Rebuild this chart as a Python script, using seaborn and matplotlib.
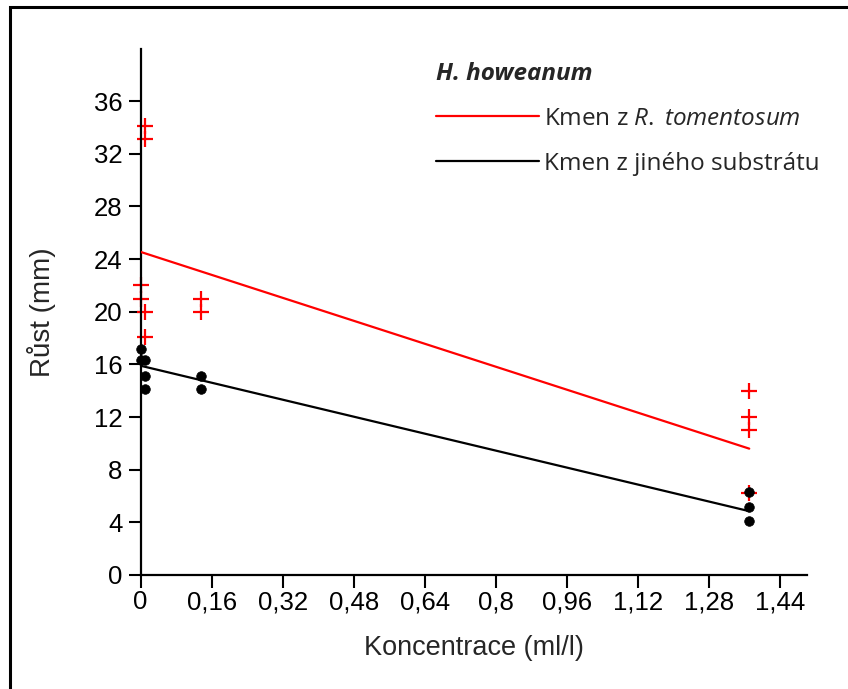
import matplotlib
matplotlib.use("Agg")
import matplotlib.pyplot as plt
from matplotlib.patches import Rectangle
from matplotlib.font_manager import FontProperties
import seaborn as sns

# Growth of H. howeanum strains vs. concentration
conc_red = [0, 0, 0.01, 0.01, 0.01, 0.01, 0.137, 0.137, 1.37, 1.37, 1.37, 1.37]
growth_red = [22.0, 21.0, 34.1, 33.1, 20.0, 18.1, 21.0, 20.0, 14.0, 12.0, 11.0, 6.2]

conc_black = [0, 0, 0.01, 0.01, 0.01, 0.137, 0.137, 1.37, 1.37, 1.37]
growth_black = [17.2, 16.3, 16.3, 15.1, 14.1, 15.1, 14.1, 6.3, 5.2, 4.1]

# Linear trend lines (start and end of the fitted range)
trend_conc = [0, 1.37]
trend_red = [24.55, 9.6]
trend_black = [15.9, 4.85]

x_ticks = [0, 0.16, 0.32, 0.48, 0.64, 0.8, 0.96, 1.12, 1.28, 1.44]
x_tick_labels = ["0", "0,16", "0,32", "0,48", "0,64", "0,8", "0,96", "1,12", "1,28", "1,44"]
y_ticks = [0, 4, 8, 12, 16, 20, 24, 28, 32, 36]
y_tick_labels = [str(v) for v in y_ticks]

label_red = r"Kmen z $\mathit{R.\;tomentosum}$"
label_black = "Kmen z jiného substrátu"

sns.set_style("ticks")
plt.rcParams["font.family"] = ["Liberation Sans", "DejaVu Sans"]
plt.rcParams["mathtext.fontset"] = "custom"
plt.rcParams["mathtext.rm"] = "Open Sans"
plt.rcParams["mathtext.it"] = "Open Sans:italic"

W, H = 848, 689
fig = plt.figure(figsize=(W / 100, H / 100), dpi=100)
ax = fig.add_axes([140.5 / W, 1 - 575 / H, 666.5 / W, (575 - 48.5) / H])

red = "#ff0000"
sns.scatterplot(x=conc_red, y=growth_red, marker="+", s=140, color=red,
                linewidth=1.6, ax=ax, clip_on=False, zorder=2)
sns.scatterplot(x=conc_black, y=growth_black, marker="o", s=48, color="black",
                edgecolor="black", linewidth=0.5, ax=ax, clip_on=False, zorder=2)
sns.lineplot(x=trend_conc, y=trend_red, color=red, linewidth=1.6, ax=ax,
             label=label_red, zorder=3)
sns.lineplot(x=trend_conc, y=trend_black, color="black", linewidth=1.6, ax=ax,
             label=label_black, zorder=3)

ax.set_xlim(0, 1.5)
ax.set_ylim(0, 40)
ax.set_xticks(x_ticks)
ax.set_xticklabels(x_tick_labels)
ax.set_yticks(y_ticks)
ax.set_yticklabels(y_tick_labels)
ax.tick_params(axis="both", direction="out", length=9, width=1.5,
               labelsize=18.5, colors="black")
ax.tick_params(axis="x", pad=2)
ax.tick_params(axis="y", pad=4)
sns.despine(ax=ax)
for side in ("left", "bottom"):
    ax.spines[side].set_linewidth(1.6)
    ax.spines[side].set_color("black")

ax.set_xlabel("Koncentrace (ml/l)", fontsize=19.5, labelpad=15)
ax.set_ylabel("Růst (mm)", fontsize=20, labelpad=27)

handles, labels = ax.get_legend_handles_labels()
ax.legend(handles, labels, title="H. howeanum", loc="upper left",
          bbox_to_anchor=(436 / W, 1 - 62 / H), bbox_transform=fig.transFigure,
          frameon=False, prop=FontProperties(family="Open Sans", size=17.5),
          title_fontproperties=FontProperties(family="Open Sans", size=17.5,
                                              weight="bold", style="italic"),
          alignment="left", handlelength=4.25, handletextpad=0.2,
          labelspacing=0.86, borderpad=0, borderaxespad=0)

# outer frame around the figure
fig.add_artist(Rectangle((9.5 / W, -0.05), 1.1, 1 - 6.5 / H + 0.05,
                         transform=fig.transFigure, fill=False,
                         linewidth=2.2, edgecolor="black", clip_on=False))

fig.savefig("out.png", dpi=100)
